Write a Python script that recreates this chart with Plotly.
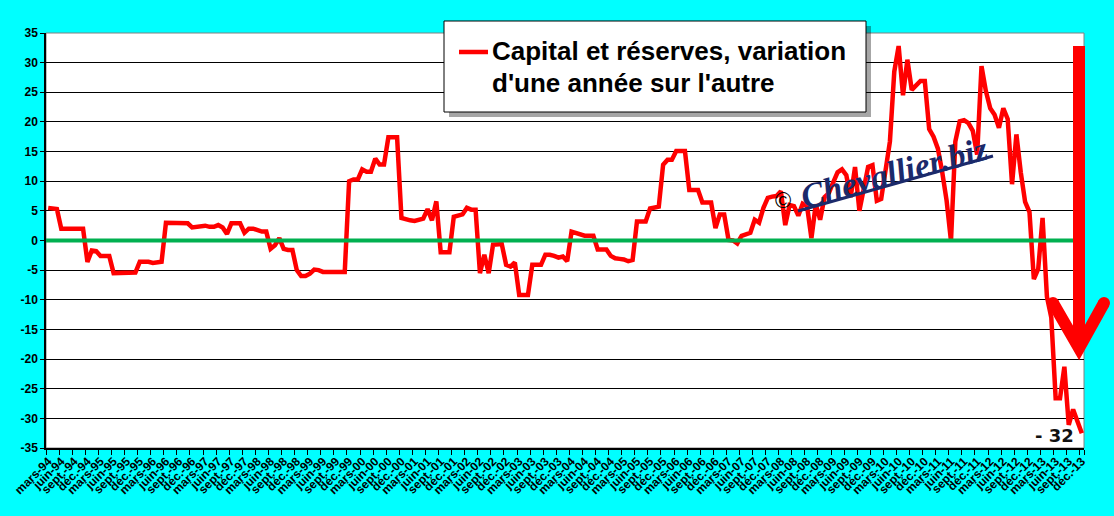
import plotly.graph_objects as go

# monthly series, mars-94 .. déc.-13
years = list(range(1994, 2014))
month_names = ["janv.", "févr.", "mars", "avr.", "mai", "juin",
               "juil.", "août", "sept.", "oct.", "nov.", "déc."]
months = [f"{m}-{str(y)[2:]}" for y in years for m in month_names][2:]

# capital et réserves, variation sur un an (%)
values = [
    5.5, 5.4, 5.3, 2.0, 2.0, 2.0, 2.0, 2.0, 2.0, -3.6,
    -1.7, -1.8, -2.6, -2.6, -2.6, -5.5, -5.5, -5.5, -5.5, -5.5,
    -5.4, -3.6, -3.6, -3.6, -3.8, -3.7, -3.6, 3.0, 3.0, 3.0,
    3.0, 3.0, 2.9, 2.2, 2.3, 2.3, 2.5, 2.3, 2.3, 2.6,
    2.2, 1.1, 2.9, 2.9, 2.9, 1.3, 2.0, 2.0, 1.8, 1.5,
    1.5, -1.4, -0.8, 0.4, -1.4, -1.6, -1.6, -5.0, -6.0, -6.0,
    -5.6, -4.9, -5.0, -5.3, -5.3, -5.3, -5.3, -5.3, -5.3, 10.0,
    10.3, 10.3, 12.0, 11.6, 11.6, 13.8, 12.8, 12.8, 17.4, 17.4,
    17.4, 3.8, 3.5, 3.4, 3.3, 3.6, 3.7, 5.3, 3.4, 6.6,
    -2.0, -2.0, -2.0, 4.0, 4.3, 4.4, 5.5, 5.2, 5.2, -5.5,
    -2.4, -5.5, -0.7, -0.6, -0.6, -4.1, -4.4, -3.7, -9.2, -9.2,
    -9.2, -4.1, -4.1, -4.1, -2.4, -2.4, -2.6, -2.9, -2.7, -3.5,
    1.5, 1.3, 1.1, 0.8, 0.8, 0.8, -1.5, -1.5, -1.5, -2.6,
    -3.0, -3.1, -3.2, -3.5, -3.3, 3.2, 3.2, 3.2, 5.4, 5.6,
    5.7, 12.8, 13.6, 13.6, 15.1, 15.1, 15.1, 8.5, 8.5, 8.5,
    6.4, 6.4, 6.4, 2.1, 4.4, 4.4, 0.1, 0.0, -0.5, 0.8,
    1.0, 1.3, 3.5, 3.0, 5.5, 7.2, 7.4, 7.5, 8.3, 2.6,
    6.0, 5.8, 4.2, 6.2, 5.8, 0.4, 6.1, 3.5, 7.3, 8.0,
    9.8, 11.5, 12.0, 11.0, 7.3, 12.4, 5.0, 8.6, 12.4, 12.7,
    6.7, 7.0, 11.5, 16.7, 28.5, 32.8, 24.5, 30.5, 25.4, 26.2,
    26.9, 26.9, 18.8, 17.5, 15.5, 11.5, 6.7, -0.1, 16.7, 20.1,
    20.3, 19.8, 18.5, 14.5, 29.4, 25.2, 22.3, 21.2, 19.0, 22.3,
    20.5, 9.5, 17.9, 11.5, 6.5, 4.8, -6.5, -4.8, 3.8, -9.5,
    -13.0, -26.6, -26.6, -21.3, -31.1, -28.5, -30.5, -32.5,
]

quarter_labels = months[::3]
y_ticks = list(range(-35, 40, 5))
last_label = "- 32"
legend_text = ["Capital et réserves, variation", "d'une année sur l'autre"]

# plot area in pixels (1114x516 page)
L, R, T, B = 46, 1084, 33, 448


def px(x):
    return (x - L) / (R - L)


def py(y):
    return (B - y) / (B - T)


fig = go.Figure()
fig.add_trace(go.Scatter(
    x=months, y=values, mode="lines",
    line=dict(color="#FF0000", width=4.5),
    name=" ".join(legend_text), showlegend=False,
))

shapes = [
    # plot border
    dict(type="rect", xref="paper", yref="paper", x0=0, x1=1, y0=0, y1=1,
         line=dict(color="#808080", width=1), layer="below"),
    # zero line
    dict(type="line", xref="paper", yref="y", x0=0, x1=1, y0=0, y1=0,
         line=dict(color="#00B050", width=4), layer="above"),
    # legend box + shadow
    dict(type="rect", xref="paper", yref="paper",
         x0=px(449), x1=px(871), y0=py(117), y1=py(26),
         fillcolor="rgba(0,0,0,0.35)", line=dict(width=0), layer="above"),
    dict(type="rect", xref="paper", yref="paper",
         x0=px(444), x1=px(866), y0=py(112), y1=py(21),
         fillcolor="white", line=dict(color="black", width=1), layer="above"),
    dict(type="line", xref="paper", yref="paper",
         x0=px(459), x1=px(488), y0=py(52), y1=py(52),
         line=dict(color="#FF0000", width=4.5), layer="above"),
    # watermark underline
    dict(type="line", xref="paper", yref="paper",
         x0=px(798), x1=px(993), y0=py(211), y1=py(156),
         line=dict(color="#1B2A6B", width=3), layer="above"),
    # big red arrow
    dict(type="rect", xref="paper", yref="paper",
         x0=px(1073), x1=px(1085), y0=py(340), y1=py(46),
         fillcolor="#FF0000", line=dict(width=0), layer="above"),
    dict(type="path", xref="paper", yref="paper",
         path=f"M {px(1053)} {py(303)} L {px(1079)} {py(348)} L {px(1104)} {py(303)}",
         line=dict(color="#FF0000", width=12), layer="above"),
]
for cx, cy in [(1053, 303), (1104, 303)]:
    shapes.append(dict(type="circle", xref="paper", yref="paper",
                       x0=px(cx - 6), x1=px(cx + 6), y0=py(cy + 6), y1=py(cy - 6),
                       fillcolor="#FF0000", line=dict(width=0), layer="above"))

annotations = [
    dict(xref="paper", yref="paper", x=px(490), y=py(51), xanchor="left", yanchor="middle",
         text=legend_text[0], showarrow=False,
         font=dict(family="Liberation Sans", size=26, color="black", weight="bold")),
    dict(xref="paper", yref="paper", x=px(490), y=py(83), xanchor="left", yanchor="middle",
         text=legend_text[1], showarrow=False,
         font=dict(family="Liberation Sans", size=26, color="black", weight="bold")),
    dict(xref="paper", yref="paper", x=px(894), y=py(172), xanchor="center", yanchor="middle",
         text="<i>Chevallier.biz</i>", showarrow=False, textangle=-15,
         font=dict(family="Liberation Serif", size=34, color="#1B2A6B", weight="bold")),
    dict(xref="paper", yref="paper", x=px(783), y=py(200), xanchor="center", yanchor="middle",
         text="©", showarrow=False,
         font=dict(family="Liberation Sans", size=22, color="black")),
    dict(xref="paper", yref="paper", x=px(1054), y=py(435), xanchor="center", yanchor="middle",
         text=last_label, showarrow=False,
         font=dict(family="DejaVu Sans", size=18, color="#111111", weight="bold")),
]

tick_font = dict(family="Liberation Sans", size=12, color="black", weight="bold")

fig.update_layout(
    template="none",
    width=1114, height=516,
    margin=dict(l=L, r=1114 - R, t=T, b=516 - B),
    paper_bgcolor="#00FFFF",
    plot_bgcolor="white",
    shapes=shapes,
    annotations=annotations,
    xaxis=dict(
        type="category", range=[-0.5, len(months) - 0.5],
        tickmode="array", tickvals=quarter_labels, ticktext=quarter_labels,
        tickangle=-45, tickfont=tick_font,
        ticks="outside", ticklen=5, tickcolor="black", tickson="boundaries",
        showgrid=False, showline=True, linecolor="black", linewidth=1.5,
        zeroline=False, automargin=False,
    ),
    yaxis=dict(
        range=[-35, 35], tickmode="array", tickvals=y_ticks,
        ticktext=[str(v) for v in y_ticks], tickfont=tick_font,
        ticks="outside", ticklen=4, tickcolor="black",
        showgrid=True, gridcolor="black", gridwidth=1,
        showline=True, linecolor="black", linewidth=1.5,
        zeroline=False, automargin=False,
    ),
)

fig.write_html("out.html", config={"displayModeBar": False},
               post_script="document.body.style.margin='0';")
